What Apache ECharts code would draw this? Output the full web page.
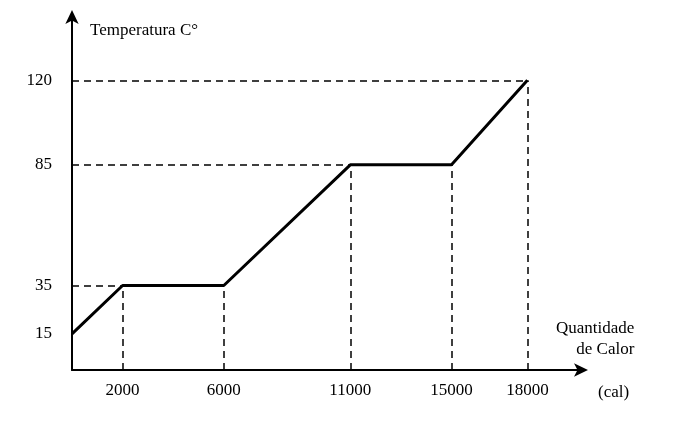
<!DOCTYPE html>
<html><head><meta charset="utf-8">
<script src="https://cdn.jsdelivr.net/npm/echarts@6/dist/echarts.min.js"></script>
<style>html,body{margin:0;padding:0;background:#fff}#c{width:681px;height:422px}</style>
</head><body><div id="c"></div>
<script>
const heat = [0, 2000, 6000, 11000, 15000, 18000];
const temp = [15, 35, 35, 85, 85, 120];
const xTicks = [2000, 6000, 11000, 15000, 18000];
const yTicks = [15, 35, 85, 120];
const F = "Liberation Serif";
const pts = heat.map((h, i) => [h, temp[i]]);
const guides = [];
for (let i = 1; i < pts.length; i++) guides.push([{coord: [pts[i][0], 0]}, {coord: pts[i]}]);
[1, 3, 5].forEach(i => guides.push([{coord: [0, pts[i][1]]}, {coord: pts[i]}]));
const chart = echarts.init(document.getElementById('c'));
chart.setOption({
  animation: false,
  grid: {left: 72, right: 103, top: 20, bottom: 52, containLabel: false},
  xAxis: {type: 'value', min: 0, max: 20000, interval: 1000,
    axisLine: {show: true, onZero: false, lineStyle: {color: '#000', width: 2}, symbol: ['none', 'arrow'], symbolSize: [10, 14], symbolOffset: [0, 10]},
    axisTick: {show: false}, splitLine: {show: false},
    axisLabel: {color: '#000', fontFamily: F, fontSize: 17, margin: 12, showMinLabel: true, showMaxLabel: true,
      formatter: v => xTicks.includes(v) ? String(v) : ''}},
  yAxis: {type: 'value', min: 0, max: 145, interval: 5,
    axisLine: {show: true, onZero: false, lineStyle: {color: '#000', width: 2}, symbol: ['none', 'arrow'], symbolSize: [10, 14], symbolOffset: [0, 10]},
    axisTick: {show: false}, splitLine: {show: false},
    axisLabel: {color: '#000', fontFamily: F, fontSize: 17, margin: 20,
      formatter: v => yTicks.includes(v) ? String(v) : ''}},
  graphic: [
    {type: 'text', left: 90, top: 22, style: {text: 'Temperatura C°', font: '17px "Liberation Serif"', fill: '#000'}},
    {type: 'text', left: 556, top: 318, style: {text: 'Quantidade\nde Calor', font: '17px "Liberation Serif"', fill: '#000', align: 'center', lineHeight: 21, textAlign: 'right'}},
    {type: 'text', left: 598, top: 384, style: {text: '(cal)', font: '17px "Liberation Serif"', fill: '#000'}}
  ],
  series: [{
    type: 'line', data: pts, symbol: 'none',
    lineStyle: {color: '#000', width: 3},
    markLine: {silent: true, symbol: 'none', label: {show: false},
      lineStyle: {color: '#000', type: [7, 5], width: 1.5}, data: guides}
  }]
});
</script></body></html>
